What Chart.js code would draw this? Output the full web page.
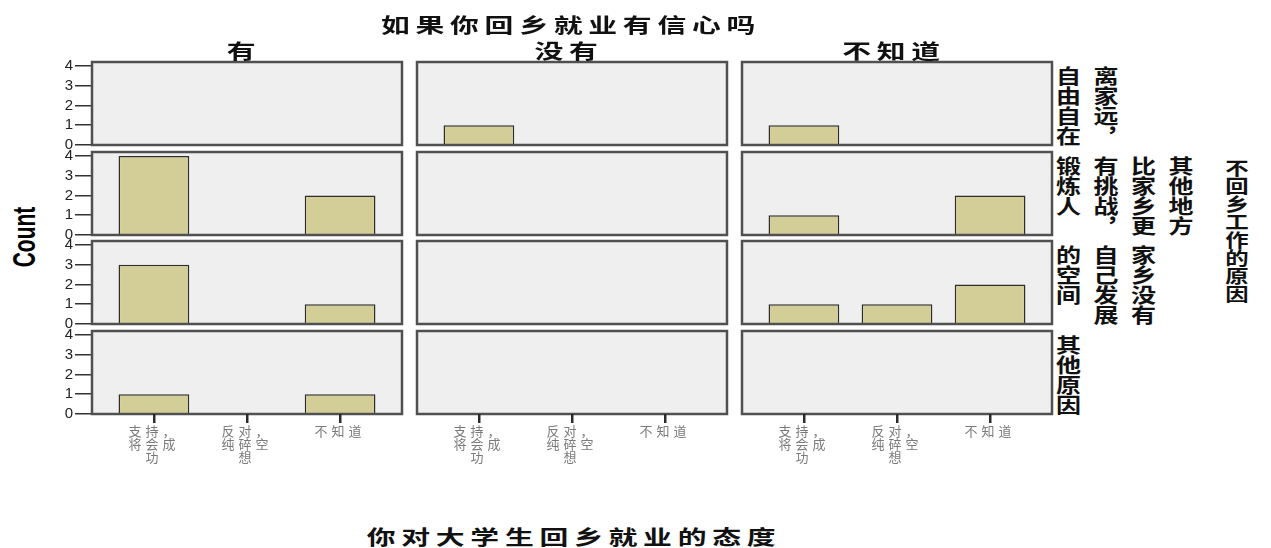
<!DOCTYPE html>
<html>
<head>
<meta charset="utf-8">
<script src="https://cdn.jsdelivr.net/npm/chart.js@4/dist/chart.umd.min.js"></script>
<style>
  body { margin: 0; background: #fff; width: 1271px; height: 548px; overflow: hidden; position: relative;
         font-family: "Noto Sans CJK SC", sans-serif; }
  canvas { position: absolute; z-index: 1; }
  .title { position: absolute; z-index: 2; font-size: 20px; font-weight: 700; letter-spacing: 4px; color: #111;
           white-space: nowrap; transform: translate(-50%, -50%) scaleX(1.44); }
  .rowlab { position: absolute; writing-mode: vertical-rl; font-size: 20px; line-height: 30px; font-weight: 700;
            color: #111; white-space: nowrap; transform-origin: left top; transform: scaleX(1.25); }
  .side { position: absolute; writing-mode: vertical-rl; font-size: 18px; font-weight: 700; color: #111;
          white-space: nowrap; transform: translate(-50%, -50%) scaleX(1.3); }
  .count { position: absolute; font-family: "Liberation Sans Narrow", "Liberation Sans", sans-serif; font-weight: 700;
           font-size: 21px; color: #000; transform: translate(-50%, -50%) rotate(-90deg) scaleY(1.5); }
</style>
</head>
<body>
<div class="title" style="left:571px; top:24px;">如果你回乡就业有信心吗</div>
<div class="title" style="left:574px; top:536px;">你对大学生回乡就业的态度</div>
<div class="count" style="left:24px; top:237px;">Count</div>
<div class="side" style="left:1237px; top:231px;">不回乡工作的原因</div>
<script>
// facet columns: 如果你回乡就业有信心吗
const confidence = ['有', '没有', '不知道'];
// facet rows: 不回乡工作的原因 (broken into the printed columns)
const reasons = [
    ['离家远，', '自由自在'],
    ['其他地方', '比家乡更', '有挑战，', '锻炼人'],
    ['家乡没有', '自己发展', '的空间'],
    ['其他原因']
];
// x categories: 你对大学生回乡就业的态度
const attitudes = [['支持，', '将会成', '功'], ['反对，', '纯碎空', '想'], ['不知道']];

// counts per reason row, order = attitudes
const countYou = [[0, 0, 0], [4, 0, 2], [3, 0, 1], [1, 0, 1]];
const countMeiyou = [[1, 0, 0], [0, 0, 0], [0, 0, 0], [0, 0, 0]];
const countBuzhidao = [[1, 0, 0], [1, 0, 2], [1, 1, 2], [0, 0, 0]];
const yTicks = [0, 1, 2, 3, 4];

const counts = [countYou, countMeiyou, countBuzhidao];

const panelLeft = [92, 417, 742];
const panelTop = [62, 152, 241, 331];
const panelW = 310, panelH = 83, pad = 12, yAxisW = 50, xAxisH = 60;

const panelBox = {
    id: 'panelBox',
    beforeDraw(chart) {
        const a = chart.chartArea, ctx = chart.ctx;
        ctx.save();
        ctx.fillStyle = '#efefef';
        ctx.fillRect(a.left, a.top, a.width, a.height);
        ctx.restore();
    },
    afterDatasetsDraw(chart) {
        const a = chart.chartArea, ctx = chart.ctx;
        ctx.save();
        ctx.strokeStyle = '#505050';
        ctx.lineWidth = 2.5;
        ctx.strokeRect(a.left, a.top, a.width, a.height);
        ctx.restore();
        // x labels are drawn after this (ticks.z = 1), spread them like the original
        ctx.letterSpacing = '4px';
    },
    afterDraw(chart) {
        chart.ctx.letterSpacing = '0px';
    }
};

// column headers and row labels
confidence.forEach((name, c) => {
    const d = document.createElement('div');
    d.className = 'title';
    d.style.left = (panelLeft[c] + panelW / 2 - 3) + 'px';
    d.style.top = '50px';
    d.textContent = name;
    document.body.appendChild(d);
});
reasons.forEach((lines, r) => {
    const d = document.createElement('div');
    d.className = 'rowlab';
    d.style.left = '1049px';
    d.style.top = (panelTop[r] + 4) + 'px';
    d.innerHTML = lines.join('<br>');
    document.body.appendChild(d);
});

for (let r = 0; r < reasons.length; r++) {
    for (let c = 0; c < confidence.length; c++) {
        const firstCol = c === 0, lastRow = r === reasons.length - 1;
        const canvas = document.createElement('canvas');
        const w = panelW + 2 * pad + (firstCol ? yAxisW : 0);
        const h = panelH + 2 * pad + (lastRow ? xAxisH : 0);
        canvas.width = w;
        canvas.height = h;
        canvas.style.left = (panelLeft[c] - pad - (firstCol ? yAxisW : 0)) + 'px';
        canvas.style.top = (panelTop[r] - pad) + 'px';
        document.body.appendChild(canvas);

        const values = counts[c][r];
        new Chart(canvas, {
            type: 'bar',
            data: {
                datasets: [{
                    data: values.map((v, i) => ({ x: i, y: v || null })),
                    backgroundColor: '#d3ce98',
                    borderColor: '#2e2e2e',
                    borderWidth: 1.5,
                    barPercentage: 0.76,
                    categoryPercentage: 1
                }]
            },
            options: {
                responsive: false,
                animation: false,
                layout: { padding: pad },
                plugins: { legend: { display: false }, tooltip: { enabled: false } },
                scales: {
                    x: {
                        type: 'linear',
                        offset: false,
                        min: -0.665,
                        max: 2.665,
                        display: lastRow,
                        afterBuildTicks: scale => { scale.ticks = attitudes.map((a, i) => ({ value: i })); },
                        afterFit: scale => { if (lastRow) scale.height = xAxisH; },
                        border: { display: false },
                        grid: { offset: false, z: 1, drawOnChartArea: false, drawTicks: true, tickLength: 9, color: '#2a2a2a', tickColor: '#2a2a2a', lineWidth: 2.5 },
                        ticks: {
                            z: 1,
                            autoSkip: false,
                            maxRotation: 0,
                            padding: 2,
                            color: '#7a7a7a',
                            font: { family: 'Noto Sans CJK SC', size: 13, lineHeight: 0.98 },
                            callback: value => attitudes[value]
                        }
                    },
                    y: {
                        min: 0,
                        max: 4.2,
                        display: firstCol,
                        afterBuildTicks: scale => { scale.ticks = yTicks.map(v => ({ value: v })); },
                        afterFit: scale => { if (firstCol) scale.width = yAxisW; },
                        border: { display: false },
                        grid: { drawOnChartArea: false, drawTicks: true, tickLength: 17, color: '#333', lineWidth: 1.5 },
                        ticks: {
                            autoSkip: false,
                            padding: 2,
                            color: '#222',
                            font: { family: 'Liberation Sans', size: 15 }
                        }
                    }
                }
            },
            plugins: [panelBox]
        });
    }
}
</script>
</body>
</html>
